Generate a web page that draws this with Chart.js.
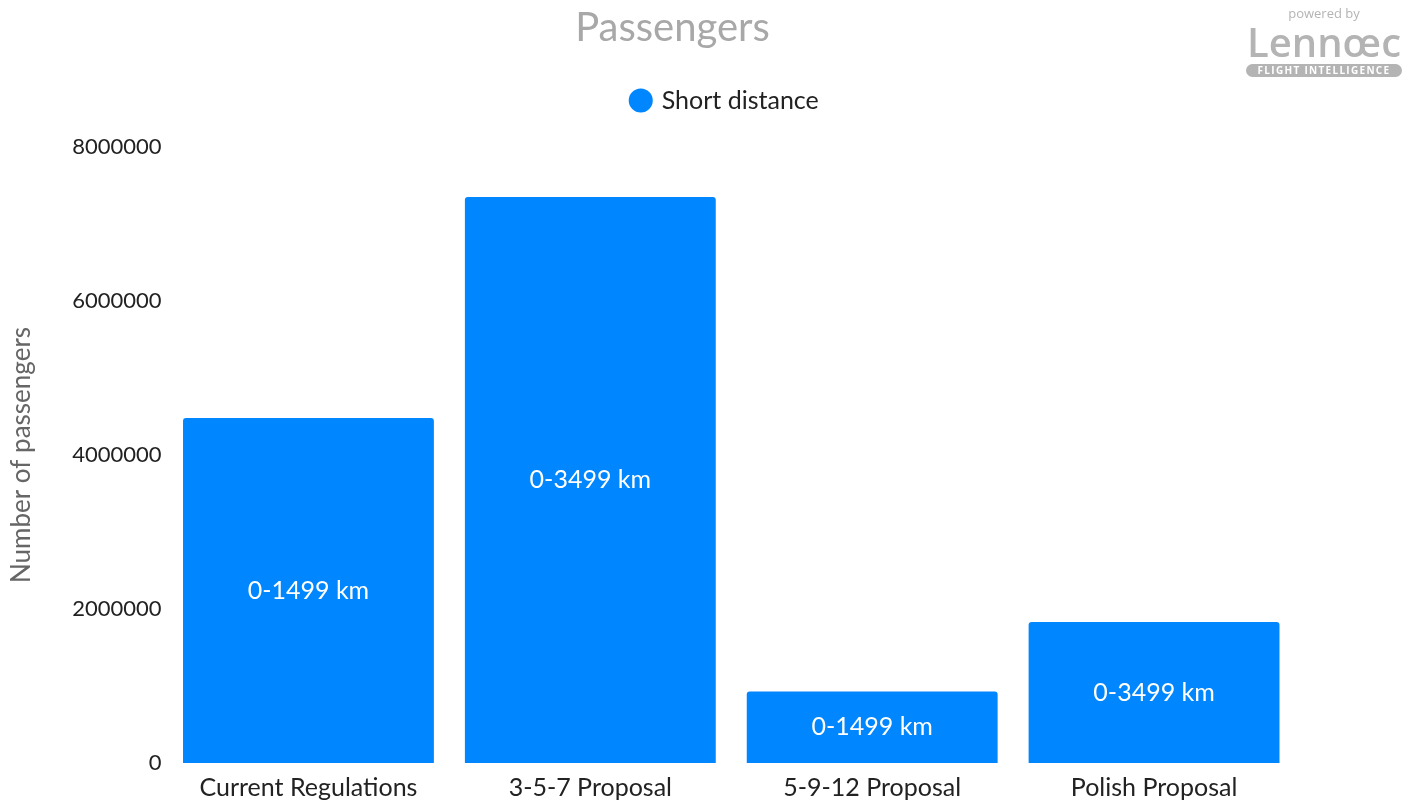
<!DOCTYPE html>
<html>
<head>
<meta charset="utf-8">
<script src="https://cdn.jsdelivr.net/npm/chart.js@4.4.0/dist/chart.umd.min.js"></script>
<style>
  html, body { margin: 0; padding: 0; background: #fff; overflow: hidden; }
  #wrap { position: relative; width: 1413px; height: 813px; }
  #logo { position: absolute; left: 1244px; top: 4px; width: 160px; text-align: center; font-family: 'Open Sans', sans-serif; color: #b4b4b4; }
  #logo .pb { font-size: 13px; line-height: 18px; }
  #logo .nm { font-size: 40px; line-height: 40px; font-weight: 600; letter-spacing: 0px; }
  #logo .fi { display: block; margin: 2px 2px 0 2px; background: #b4b4b4; color: #fff; font-size: 10px; line-height: 13px; border-radius: 7px; padding: 0 2px; letter-spacing: 1.3px; font-weight: 700; }
</style>
</head>
<body>
<div id="wrap">
  <canvas id="c" width="1413" height="813"></canvas>
  <div id="logo"><div class="pb">powered by</div><div class="nm">Lenn&oelig;c</div><div class="fi">FLIGHT INTELLIGENCE</div></div>
</div>
<script>
const categories = ['Current Regulations', '3-5-7 Proposal', '5-9-12 Proposal', 'Polish Proposal'];
const shortDistance = [4480000, 7350000, 930000, 1830000];
const barLabels = ['0-1499 km', '0-3499 km', '0-1499 km', '0-3499 km'];
const yTicks = [0, 2000000, 4000000, 6000000, 8000000];

const FONT = 'Lato, "Open Sans", sans-serif';

const barTextPlugin = {
  id: 'barText',
  afterDatasetsDraw(chart) {
    const ctx = chart.ctx;
    const meta = chart.getDatasetMeta(0);
    ctx.save();
    ctx.fillStyle = '#ffffff';
    ctx.font = '25px ' + FONT;
    ctx.textAlign = 'center';
    ctx.textBaseline = 'middle';
    meta.data.forEach((bar, i) => {
      const p = bar.getProps(['x', 'y', 'base'], true);
      ctx.fillText(barLabels[i], p.x, (p.y + p.base) / 2);
    });
    ctx.restore();
  }
};

function shiftDraw(box, dx) {
  if (!box) return;
  const od = box.draw;
  box.draw = function () {
    const c = this.ctx;
    c.save();
    c.translate(dx, 0);
    od.apply(this, arguments);
    c.restore();
  };
}

const headerPlugin = {
  id: 'headerTweak',
  afterInit(chart) {
    const lg = chart.legend;
    if (lg) {
      const orig = lg.fit;
      lg.fit = function () { orig.call(this); this.height += 24; };
    }
    shiftDraw(chart.titleBlock, 22);
    shiftDraw(chart.legend, 75);
  }
};

new Chart(document.getElementById('c'), {
  type: 'bar',
  data: {
    labels: categories,
    datasets: [{
      label: 'Short distance',
      data: shortDistance,
      backgroundColor: '#0086ff',
      borderRadius: 3,
      borderSkipped: 'bottom',
      barPercentage: 0.89,
      categoryPercentage: 1
    }]
  },
  options: {
    responsive: false,
    animation: false,
    layout: { padding: { left: 6, right: 118, top: 4, bottom: 0 } },
    plugins: {
      title: {
        display: true,
        text: 'Passengers',
        color: '#a8a8a8',
        font: { family: FONT, size: 40, weight: 'normal' },
        padding: { top: 0, bottom: 26 }
      },
      legend: {
        display: true,
        labels: {
          usePointStyle: true,
          pointStyle: 'circle',
          boxWidth: 17,
          boxHeight: 17,
          color: '#222',
          font: { family: FONT, size: 25 }
        }
      },
      tooltip: { enabled: false }
    },
    scales: {
      x: {
        grid: { display: false, drawTicks: false },
        border: { display: false },
        ticks: { color: '#222', font: { family: FONT, size: 25 }, padding: 10 }
      },
      y: {
        min: 0,
        max: 8000000,
        afterBuildTicks(axis) { axis.ticks = yTicks.map(v => ({ value: v })); },
        grid: { display: false, drawTicks: false },
        border: { display: false },
        ticks: {
          color: '#222',
          font: { family: FONT, size: 22 },
          padding: 6,
          callback: (v) => String(v)
        },
        title: {
          display: true,
          text: 'Number of passengers',
          color: '#666',
          font: { family: FONT, size: 26 },
          padding: { top: 0, bottom: 29 }
        }
      }
    }
  },
  plugins: [barTextPlugin, headerPlugin]
});
</script>
</body>
</html>
